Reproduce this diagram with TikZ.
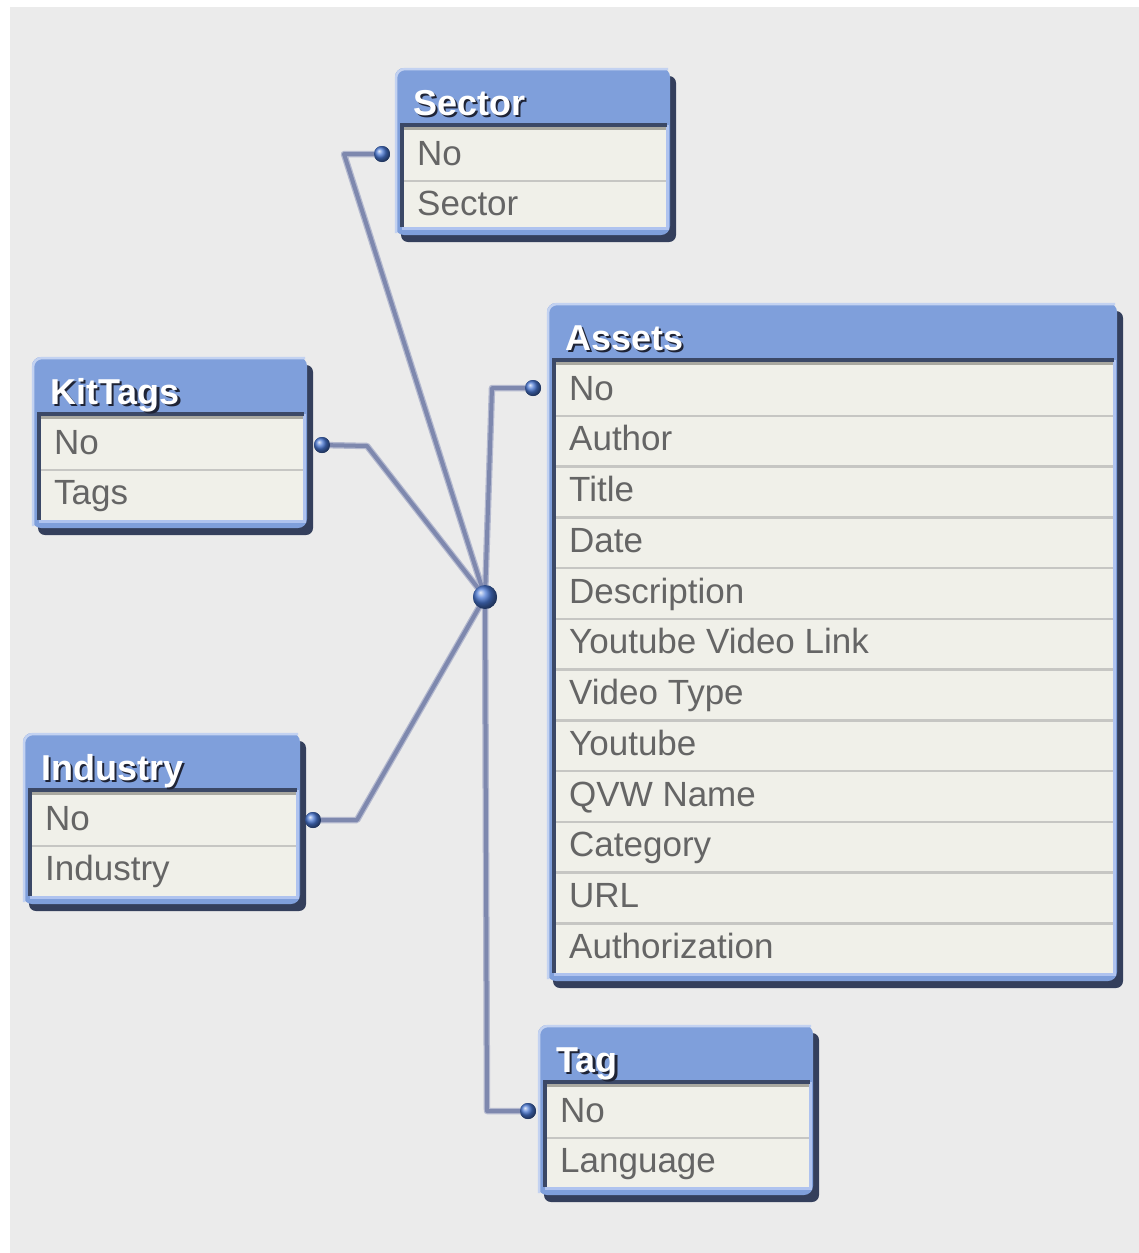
\documentclass[tikz,border=0pt]{standalone}
\usepackage{fontspec}
\setmainfont{Liberation Sans}
\usetikzlibrary{shadings}
\definecolor{bgc}{HTML}{EBEBEB}
\definecolor{hdrblue}{HTML}{7F9FDB}
\definecolor{edgelight}{HTML}{C3D2F1}
\definecolor{shadowc}{HTML}{343F5C}
\definecolor{innerdark}{HTML}{3B4866}
\definecolor{graystrip}{HTML}{A9A8A0}
\definecolor{rowfill}{HTML}{F0F0E9}
\definecolor{sepc}{HTML}{C6C6C3}
\definecolor{txtc}{HTML}{656565}
\definecolor{innerlight}{HTML}{AFC3EF}
\definecolor{connedge}{HTML}{B4B9CF}
\definecolor{conncore}{HTML}{7E88AE}
\definecolor{ballc}{HTML}{4A78D4}
\definecolor{hdrshade}{HTML}{1F2436}
\tikzset{
  fieldtxt/.style={anchor=base west, inner sep=0pt, text=txtc, font=\fontsize{35}{40}\selectfont},
  hdrtxt/.style={anchor=base west, inner sep=0pt, text=white, font=\fontsize{36}{40}\selectfont\bfseries},
  hdrshadowtxt/.style={anchor=base west, inner sep=0pt, text=hdrshade, font=\fontsize{36}{40}\selectfont\bfseries},
  connwide/.style={draw=connedge, line width=6.5pt, line join=round},
  conncoreline/.style={draw=conncore, line width=4pt, line join=round},
  dotball/.style={circle, inner sep=0pt, minimum size=16pt, shading=ball, ball color=ballc},
  hubball/.style={circle, inner sep=0pt, minimum size=24pt, shading=ball, ball color=ballc},
}
\newcommand\qvtable[7]{%
  \pgfmathsetmacro\qL{#2}\pgfmathsetmacro\qT{#3}%
  \pgfmathsetmacro\qR{#4}\pgfmathsetmacro\qB{#5}%
  \pgfmathsetmacro\qW{#4-#2}\pgfmathsetmacro\qH{#5-#3}%
  \fill[shadowc, rounded corners=7pt] (\qL+6,\qT+8) rectangle (\qR+6,\qB+7);
  \fill[hdrblue, rounded corners=9pt] (\qL,\qT) rectangle (\qR,\qB);
  \draw[edgelight, line width=2.5pt, rounded corners=9pt] (\qL+1,\qB-2) -- (\qL+1,\qT+1) -- (\qR-2,\qT+1);
  \node[name=#1, inner sep=0pt, anchor=north west, minimum width=\qW pt, minimum height=\qH pt] at (\qL,\qT) {};
  \fill[rowfill] (\qL+7,\qT+57) rectangle (\qR-4,\qB-8);
  \draw[innerlight, line width=3pt] (\qL+7,\qB-6.5) -- (\qR-2.5,\qB-6.5) -- (\qR-2.5,\qT+57);
  \draw[innerdark, line width=3.5pt] (\qL+7,\qB-8) -- (\qL+7,\qT+57) -- (\qR-3,\qT+57);
  \draw[graystrip, line width=3pt] (\qL+9,\qT+60.5) -- (\qR-4,\qT+60.5);
  \node[hdrshadowtxt, name=#1-titleshadow] at (\qL+20.5,\qT+49.5) {#6};
  \node[hdrtxt, name=#1-title] at (\qL+18,\qT+47) {#6};
  \foreach \f [count=\i] in {#7} {%
    \pgfmathsetmacro\ry{\qT+62+(\i-1)*50.75}%
    \ifnum\i>1 \draw[sepc, line width=2.5pt] (\qL+9,\ry) -- (\qR-4,\ry);\fi
    \node[fieldtxt, name=#1-\i] at (\qL+22,\ry+35) {\f};
  }%
}
\begin{document}
\begin{tikzpicture}[x=1pt,y=-1pt]
\useasboundingbox (0,0) rectangle (1139,1253);
\fill[white] (0,0) rectangle (1139,1253);
\fill[bgc] (10,7) rectangle (1139,1253);

% connector corner points
\coordinate (cSector) at (344,154);
\coordinate (cKit) at (367,446);
\coordinate (cInd) at (357,820);
\coordinate (cAssets) at (492,388);
\coordinate (cTag) at (487,1111);

% dots and hub
\node[hubball, name=hub] at (485,597) {};
\node[dotball, name=dSector] at (382,154) {};
\node[dotball, name=dKit] at (322,445) {};
\node[dotball, name=dInd] at (313,820) {};
\node[dotball, name=dAssets] at (533,388) {};
\node[dotball, name=dTag] at (528,1111) {};

\foreach \d/\c in {dSector/cSector, dKit/cKit, dInd/cInd, dAssets/cAssets, dTag/cTag} {
  \draw[connwide] (\d.center) -- (\c) -- (hub.center);
}
\foreach \d/\c in {dSector/cSector, dKit/cKit, dInd/cInd, dAssets/cAssets, dTag/cTag} {
  \draw[conncoreline] (\d.center) -- (\c) -- (hub.center);
}

\qvtable{sector}{395}{68}{670}{235}{Sector}{No,Sector}
\qvtable{assets}{547}{303}{1117}{981}{Assets}{No,Author,Title,Date,Description,Youtube Video Link,Video Type,Youtube,QVW Name,Category,URL,Authorization}
\qvtable{kittags}{32}{357}{307}{528}{KitTags}{No,Tags}
\qvtable{industry}{23}{733}{300}{904}{Industry}{No,Industry}
\qvtable{tag}{538}{1025}{813}{1195}{Tag}{No,Language}

% redraw dots and hub on top
\node[hubball, name=hubtop] at (hub.center) {};
\node[dotball, name=dSectorTop] at (dSector.center) {};
\node[dotball, name=dKitTop] at (dKit.center) {};
\node[dotball, name=dIndTop] at (dInd.center) {};
\node[dotball, name=dAssetsTop] at (dAssets.center) {};
\node[dotball, name=dTagTop] at (dTag.center) {};
\end{tikzpicture}
\end{document}
